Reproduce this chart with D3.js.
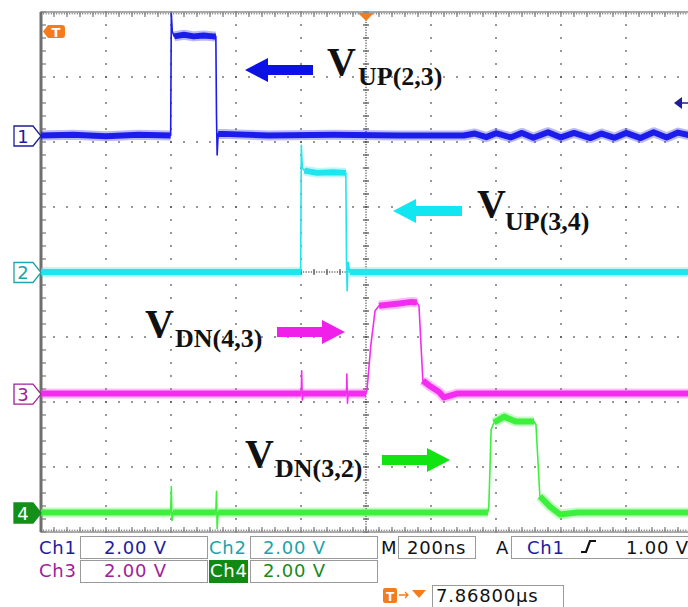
<!DOCTYPE html>
<html><head><meta charset="utf-8">
<script src="https://cdn.jsdelivr.net/npm/d3@7"></script>
<style>body{margin:0;background:#fff;overflow:hidden}</style>
</head><body><svg id="c" width="688" height="607"></svg>
<script>
// ---------- data ----------
const timeDomain = [-1000, 1000];          // ns (200 ns/div, 10 div)
const voltDomain = [-8, 8];                // V (2 V/div, 8 div)
const channelNames = ["1", "2", "3", "4"];
const channelOffsets = [4.2, 0.0, -3.74, -7.4];   // channel position (V)
const channelScales = ["2.00 V", "2.00 V", "2.00 V", "2.00 V"];
const timebase = "200ns";
const triggerSource = "Ch1";
const triggerLevel = "1.00 V";
const triggerLevelVolts = 1.0;
const triggerPosition = "7.86800µs";

// traces: [time ns, volts]
const ch1Trace = [[-1000,0],[-900,0.02],[-800,-0.02],[-700,0.02],[-601,0],[-599,3.75],[-596,3.2],[-590,3.05],[-560,3.1],[-530,3.05],[-500,3.08],[-470,3.05],[-462,3.05],[-460,0.6],[-458,-0.6],[-455,0.05],[-440,0.05],[-300,0],[-100,0.02],[100,0],[300,0],[335,0.06],[370,-0.05],[400,0.07],[445,-0.06],[480,0.08],[515,-0.07],[560,0.1],[600,-0.06],[640,0.08],[690,-0.08],[725,0.06],[765,-0.07],[800,0.08],[845,-0.08],[885,0.1],[925,-0.06],[960,0.09],[1000,0]];
const ch2Trace = [[-1000,0],[-600,0],[-201,0],[-199,3.9],[-196,3.2],[-190,3.12],[-150,3.05],[-100,3.07],[-62,3.05],[-60,0.3],[-58,-0.58],[-55,0.3],[-50,0],[200,0],[600,0],[1000,0]];
const ch3Trace = [[-1000,0],[-600,0],[-199,0],[-198,0.7],[-196,-0.2],[-194,0],[-60,0],[-59,0.6],[-57,-0.3],[-55,0],[0,0],[3,0.1],[15,1.5],[28,2.55],[40,2.7],[102,2.77],[140,2.82],[157,2.8],[163,2.7],[175,0.4],[194,0.25],[225,0.05],[240,-0.12],[280,0],[600,0],[1000,0]];
const ch4Trace = [[-1000,0],[-601,0],[-599,0.8],[-597,-0.25],[-594,0],[-462,0],[-460,0.65],[-458,-0.5],[-455,0],[0,0],[375,0],[378,0.2],[385,2.55],[394,2.77],[425,2.95],[460,2.8],[517,2.8],[523,2.7],[535,0.5],[566,0.18],[597,-0.06],[650,0],[1000,0]];
const traces = [ch1Trace, ch2Trace, ch3Trace, ch4Trace];
const traceColors = ["#1c1cec", "#22e4ee", "#f42cf0", "#3cf03c"];
const labelColors = ["#1c1c9c", "#1fa2aa", "#a0209c", "#1a8a1a"];

// annotations
const annoMain = "V";
const annoSubs = ["UP(2,3)", "UP(3,4)", "DN(4,3)", "DN(3,2)"];
const annoColors = ["#0c12e6", "#12e6f0", "#f020ea", "#12e412"];
const annoDir = [-1, -1, 1, 1];

// ---------- drawing ----------
const svg = d3.select("#c");
const x = d3.scaleLinear().domain(timeDomain).range([41, 691]);
const y = d3.scaleLinear().domain(voltDomain).range([532, 12]);
const gridCol = "#4a4a4a";

// grid dots
const g = svg.append("g");
const majorT = d3.range(-800, 801, 200);
const majorV = d3.range(-6, 6.01, 2);
const minorT = d3.range(-1000, 1000.1, 40);
const minorV = d3.range(-8, 8.01, 0.4);
majorT.filter(t => t !== 0).forEach(t => {
  minorV.forEach(v => g.append("rect").attr("x", x(t)-0.75).attr("y", y(v)-0.75).attr("width",1.5).attr("height",1.5).attr("fill",gridCol));
});
majorV.filter(v => v !== 0).forEach(v => {
  minorT.forEach(t => g.append("rect").attr("x", x(t)-0.75).attr("y", y(v)-0.75).attr("width",1.5).attr("height",1.5).attr("fill",gridCol));
});
// center cross
d3.range(-1000, 1000.1, 8).forEach(t => g.append("rect").attr("x", x(t)-0.6).attr("y", y(0)-0.6).attr("width",1.2).attr("height",1.2).attr("fill",gridCol));
d3.range(-8, 8.01, 0.08).forEach(v => g.append("rect").attr("x", x(0)-0.6).attr("y", y(v)-0.6).attr("width",1.2).attr("height",1.2).attr("fill",gridCol));
minorT.forEach(t => g.append("line").attr("x1", x(t)).attr("x2", x(t)).attr("y1", y(0)-3).attr("y2", y(0)+3).attr("stroke",gridCol).attr("stroke-width",1.2));
minorV.forEach(v => g.append("line").attr("x1", x(0)-3).attr("x2", x(0)+3).attr("y1", y(v)).attr("y2", y(v)).attr("stroke",gridCol).attr("stroke-width",1.2));
// border ticks
minorV.forEach(v => g.append("line").attr("x1", x(-1000)).attr("x2", x(-1000)+5).attr("y1", y(v)).attr("y2", y(v)).attr("stroke","#777").attr("stroke-width",1.2));
minorT.forEach(t => {
  g.append("line").attr("x1", x(t)).attr("x2", x(t)).attr("y1", y(8)).attr("y2", y(8)+5).attr("stroke","#777").attr("stroke-width",1.2);
  g.append("line").attr("x1", x(t)).attr("x2", x(t)).attr("y1", y(-8)).attr("y2", y(-8)-5).attr("stroke","#777").attr("stroke-width",1.2);
});
d3.range(-1000, 1000.1, 8).forEach(t => {
  g.append("rect").attr("x", x(t)-0.5).attr("y", y(8)+1).attr("width",1).attr("height",1.5).attr("fill","#777");
  g.append("rect").attr("x", x(t)-0.5).attr("y", y(-8)-2.5).attr("width",1).attr("height",1.5).attr("fill","#777");
});
g.append("rect").attr("x", x(-1000)).attr("y", y(8)).attr("width", x(1000)-x(-1000)).attr("height", y(-8)-y(8))
  .attr("fill","none").attr("stroke","#8c8c8c").attr("stroke-width",1.5);
g.append("line").attr("x1", x(-1000)).attr("x2", x(-1000)).attr("y1", y(8)).attr("y2", y(-8)).attr("stroke","#6e6e6e").attr("stroke-width",3);

// traces
const tg = svg.append("g");
traces.forEach((tr, i) => {
  const off = channelOffsets[i];
  const pts = tr.map(d => [x(d[0]), y(d[1] + off)]);
  const line = d3.line();
  // band runs (flat, noisy parts)
  const runs = [];
  let cur = null;
  for (let k = 0; k < pts.length - 1; k++) {
    const dx = Math.abs(pts[k+1][0]-pts[k][0]), dy = Math.abs(pts[k+1][1]-pts[k][1]);
    if (dy <= dx * 1.2) {
      if (!cur) { cur = [pts[k]]; runs.push(cur); }
      cur.push(pts[k+1]);
    } else cur = null;
  }
  runs.forEach(r => {
    tg.append("path").attr("d", line(r)).attr("fill","none").attr("stroke", traceColors[i])
      .attr("stroke-width", 10).attr("stroke-opacity", 0.3).attr("stroke-linejoin","round");
    tg.append("path").attr("d", line(r)).attr("fill","none").attr("stroke", traceColors[i])
      .attr("stroke-width", 6).attr("stroke-linejoin","round");
  });
  tg.append("path").attr("d", line(pts)).attr("fill","none").attr("stroke", traceColors[i])
    .attr("stroke-width", 1.6).attr("stroke-linejoin","round");
});

// channel markers
channelNames.forEach((n, i) => {
  const yc = y(channelOffsets[i]) + 0.5;
  const filled = i === 3;
  svg.append("path").attr("d", `M14,${yc-10} H33 L41,${yc} L33,${yc+10} H14 Z`)
    .attr("fill", filled ? "#14901a" : "#fff").attr("stroke", filled ? "#14901a" : labelColors[i]).attr("stroke-width", 1.3);
  svg.append("text").attr("x", 23).attr("y", yc + 6.5).attr("text-anchor","middle")
    .attr("font-family","DejaVu Sans").attr("font-size", 18).attr("fill", filled ? "#fff" : labelColors[i]).text(n);
});

// trigger markers
const orange = "#f47c1c";
svg.append("path").attr("d", "M43,31.5 L48,25 H62 Q65,25 65,28 V35 Q65,38 62,38 H48 Z").attr("fill", orange);
svg.append("text").attr("x", 56).attr("y", 37).attr("text-anchor","middle").attr("font-family","DejaVu Sans")
  .attr("font-weight","bold").attr("font-size", 13).attr("fill","#fff").text("T");
svg.append("path").attr("d", `M${x(0)-8},13 H${x(0)+8} L${x(0)},21 Z`).attr("fill", orange);
const trigY = y(channelOffsets[0] + triggerLevelVolts);
svg.append("path").attr("d", `M674,${trigY} L682,${trigY-6} L682,${trigY+6} Z`).attr("fill", "#1c1c9c");
svg.append("line").attr("x1", 680).attr("x2", 688).attr("y1", trigY).attr("y2", trigY).attr("stroke","#1c1c9c").attr("stroke-width",1.5);

// annotations
const annoPos = [
  {vx:327, vy:75, sx:358, sy:85, ax0:245, ax1:313, ay:70},
  {vx:477, vy:217, sx:505, sy:230, ax0:393, ax1:462, ay:211},
  {vx:145, vy:337, sx:175, sy:347, ax0:277, ax1:345, ay:332},
  {vx:245, vy:467, sx:275, sy:477, ax0:382, ax1:450, ay:460}
];
annoSubs.forEach((s, i) => {
  const p = annoPos[i];
  svg.append("text").attr("x", p.vx).attr("y", p.vy).attr("font-family","Liberation Serif").attr("font-weight","bold")
    .attr("font-size", 40).attr("fill","#111").text(annoMain);
  svg.append("text").attr("x", p.sx).attr("y", p.sy).attr("font-family","Liberation Serif").attr("font-weight","bold")
    .attr("font-size", 26).attr("fill","#111").text(s);
  const hl = 23, sh = 5, hh = 12;
  let d;
  if (annoDir[i] < 0) {
    const a = p.ax0, b = p.ax1, c = p.ay;
    d = `M${a},${c} L${a+hl},${c-hh} V${c-sh} H${b} V${c+sh} H${a+hl} V${c+hh} Z`;
  } else {
    const a = p.ax1, b = p.ax0, c = p.ay;
    d = `M${a},${c} L${a-hl},${c-hh} V${c-sh} H${b} V${c+sh} H${a-hl} V${c+hh} Z`;
  }
  svg.append("path").attr("d", d).attr("fill", annoColors[i]);
});

// status bar
const sb = svg.append("g").attr("font-family","DejaVu Sans").attr("font-size", 18).attr("letter-spacing", "0.8");
const box = (x0, y0, w, h) => sb.append("rect").attr("x", x0+0.5).attr("y", y0+0.5).attr("width", w).attr("height", h)
  .attr("fill","#fff").attr("stroke","#9a9a9a").attr("stroke-width",1);
const txt = (x0, y0, s, c) => sb.append("text").attr("x", x0).attr("y", y0).attr("fill", c).text(s);
// row 1
box(80, 536, 127, 22); box(250, 536, 127, 22); box(398, 536, 77, 22); box(511, 536, 200, 22);
txt(39, 554, "Ch1", labelColors[0]); txt(104, 554, channelScales[0], labelColors[0]);
txt(209, 554, "Ch2", labelColors[1]); txt(263, 554, channelScales[1], labelColors[1]);
txt(381, 554, "M", "#111"); txt(407, 554, timebase, "#111");
txt(496, 554, "A", "#111"); txt(527, 554, triggerSource, labelColors[0]);
sb.append("path").attr("d", "M581,552 H586 L590,541 H596").attr("fill","none").attr("stroke","#111").attr("stroke-width",2.2);
txt(626, 554, triggerLevel, "#111");
// row 2
box(80, 560, 127, 22); box(250, 560, 127, 22);
txt(39, 577, "Ch3", labelColors[2]); txt(104, 577, channelScales[2], labelColors[2]);
sb.append("rect").attr("x", 209).attr("y", 560).attr("width", 39).attr("height", 23).attr("fill", "#118a14");
txt(210, 577, "Ch4", "#fff"); txt(263, 577, channelScales[3], labelColors[3]);
// row 3
sb.append("rect").attr("x", 383).attr("y", 588).attr("width", 14).attr("height", 15).attr("rx", 2).attr("fill", orange);
sb.append("text").attr("x", 390).attr("y", 601).attr("text-anchor","middle").attr("font-size", 12).attr("font-weight","bold").attr("letter-spacing","0").attr("fill","#fff").text("T");
sb.append("path").attr("d", "M399,595 H408 M405,592 L408,595 L405,598").attr("fill","none").attr("stroke", orange).attr("stroke-width",1.3);
sb.append("path").attr("d", "M412,590 H426 L419,598 Z").attr("fill", orange);
box(432, 585, 131, 24);
txt(436, 602, triggerPosition, "#111");
</script>
</body></html>
